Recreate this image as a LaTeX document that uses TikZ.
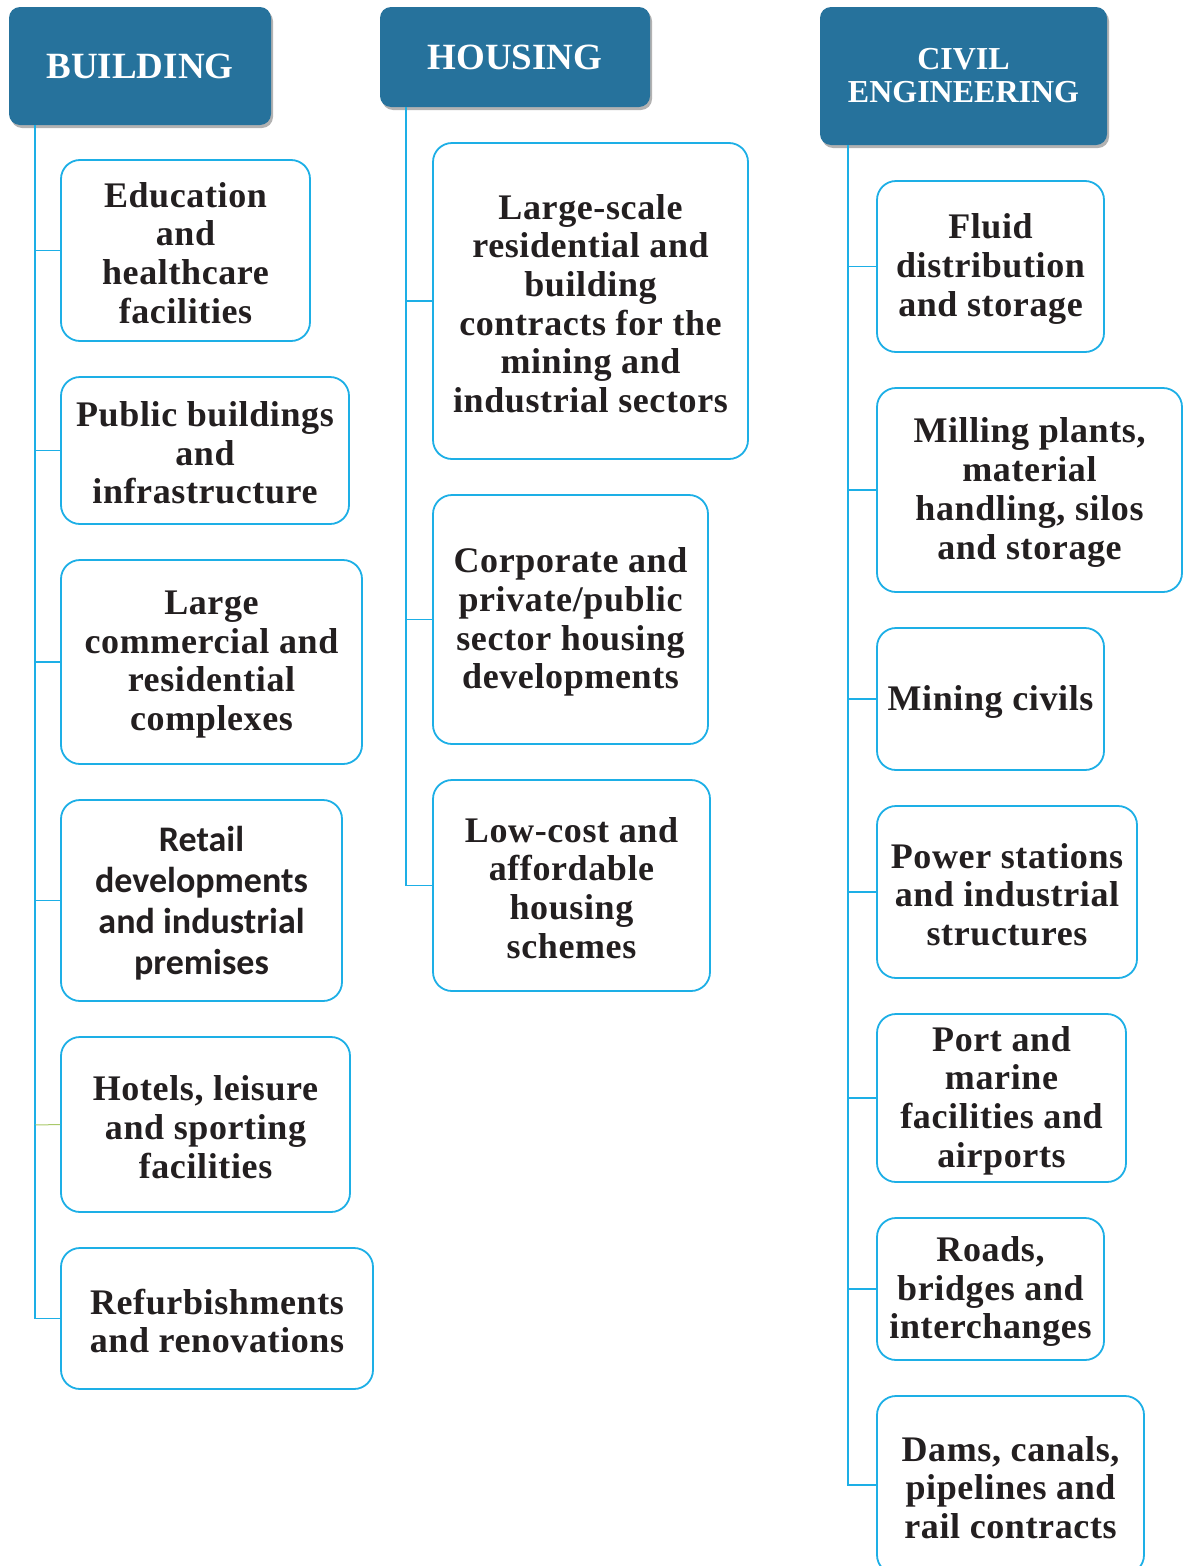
\documentclass[tikz,border=0pt]{standalone}
\usepackage{fontspec}
\setmainfont{Liberation Serif}
\newfontfamily\itemfont[LetterSpace=1.7]{Liberation Serif}
\newfontfamily\retailfont{Carlito}
\usetikzlibrary{shadows,positioning}
\definecolor{hdrblue}{HTML}{26729C}
\definecolor{boxcyan}{HTML}{1DAFE6}
\definecolor{txtdark}{HTML}{231F20}
\definecolor{greenln}{HTML}{A9C96A}
\tikzset{
  header/.style={fill=hdrblue, rounded corners=11pt, text=white, align=center,
    font=\fontsize{37}{38}\selectfont\bfseries, inner sep=0pt,
    drop shadow={shadow xshift=2pt, shadow yshift=-3pt, fill=black, opacity=0.3}},
  itembox/.style={draw=boxcyan, line width=1.8pt, rounded corners=19pt, fill=white, inner sep=0pt},
  itemtext/.style={text=txtdark, align=center, inner sep=0pt,
    font=\itemfont\fontsize{36}{38.7}\selectfont\bfseries},
  trunk/.style={draw=boxcyan, line width=1.6pt},
}
\newcommand{\ibox}[6]{% name, x1, y1, x2, y2, text
  \node[itembox, minimum width={#4-#2}, minimum height={#5-#3}] (#1) at ({(#2+#4)/2},{(#3+#5)/2}) {};
  \node[itemtext] (#1t) at ([yshift=-2.5pt]#1.center) {#6};}
\begin{document}
\begin{tikzpicture}[x=1pt,y=-1pt]
\useasboundingbox (0,0) rectangle (1185,1566);

% headers
\node[header, minimum width=262pt, minimum height=118pt] (hb) at (140,66) {BUILDING};
\node[header, minimum width=270pt, minimum height=100pt] (hh) at (515,57) {HOUSING};
\node[header, minimum width=287pt, minimum height=138pt, font=\fontsize{32}{33}\selectfont\bfseries] (hc) at (963.5,76) {CIVIL\\ENGINEERING};

% BUILDING column
\ibox{b1}{61}{160}{310}{341}{Education\\and\\healthcare\\facilities}
\ibox{b2}{61}{377}{349}{524}{Public buildings\\and\\infrastructure}
\ibox{b3}{61}{560}{362}{764}{Large\\commercial and\\residential\\complexes}
\node[itembox, minimum width=281pt, minimum height=201pt] (b4) at (201.5,900.5) {};
\node[itemtext, font=\retailfont\fontsize{36}{41}\selectfont\bfseries] (b4t) at ([yshift=-3pt]b4.center) {Retail\\developments\\and industrial\\premises};
\ibox{b5}{61}{1037}{350}{1212}{Hotels, leisure\\and sporting\\facilities}
\ibox{b6}{61}{1248}{373}{1389}{Refurbishments\\and renovations}

% HOUSING column
\ibox{h1}{433}{143}{748}{459}{Large-scale\\residential and\\building\\contracts for the\\mining and\\industrial sectors}
\ibox{h2}{433}{495}{708}{744}{Corporate and\\private/public\\sector housing\\developments}
\ibox{h3}{433}{780}{710}{991}{Low-cost and\\affordable\\housing\\schemes}

% CIVIL column
\ibox{c1}{877}{181}{1104}{352}{Fluid\\distribution\\and storage}
\ibox{c2}{877}{388}{1182}{592}{Milling plants,\\material\\handling, silos\\and storage}
\ibox{c3}{877}{628}{1104}{770}{Mining civils}
\ibox{c4}{877}{806}{1137}{978}{Power stations\\and industrial\\structures}
\ibox{c5}{877}{1014}{1126}{1182}{Port and\\marine\\facilities and\\airports}
\ibox{c6}{877}{1218}{1104}{1360}{Roads,\\bridges and\\interchanges}
\ibox{c7}{877}{1396}{1144}{1574}{Dams, canals,\\pipelines and\\rail contracts}

% connectors BUILDING
\draw[trunk] (hb.south -| 35,0) |- (b1.west);
\draw[trunk] (35,250) |- (b2.west);
\draw[trunk] (35,450) |- (b3.west);
\draw[trunk] (35,662) |- (b4.west);
\draw[trunk] (35,900) -- (35,1125);
\draw[draw=greenln, line width=1pt] (35,1125) -- (b5.west);
\draw[trunk] (35,1125) |- (b6.west);
% HOUSING
\draw[trunk] (hh.south -| 406,0) |- (h1.west);
\draw[trunk] (406,301) |- (h2.west);
\draw[trunk] (406,619) |- (h3.west);
% CIVIL
\draw[trunk] (hc.south -| 848,0) |- (c1.west);
\draw[trunk] (848,267) |- (c2.west);
\draw[trunk] (848,490) |- (c3.west);
\draw[trunk] (848,699) |- (c4.west);
\draw[trunk] (848,892) |- (c5.west);
\draw[trunk] (848,1098) |- (c6.west);
\draw[trunk] (848,1289) |- (c7.west);
\end{tikzpicture}
\end{document}
